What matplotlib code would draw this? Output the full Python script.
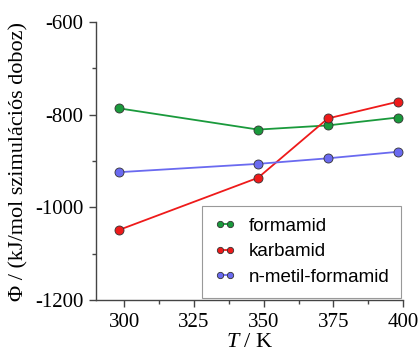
import matplotlib.pyplot as plt
from matplotlib.ticker import MultipleLocator

# data
T = [298, 348, 373, 398]
formamid = [-786, -832, -823, -806]
karbamid = [-1049, -936, -808, -772]
n_metil_formamid = [-924, -906, -894, -880]

series = [
    ('formamid', formamid, '#1a9a3c'),
    ('karbamid', karbamid, '#ee1a1a'),
    ('n-metil-formamid', n_metil_formamid, '#6a6af0'),
]

plt.rcParams['font.family'] = 'Liberation Serif'
plt.rcParams['axes.unicode_minus'] = False
plt.rcParams['mathtext.fontset'] = 'custom'
plt.rcParams['mathtext.it'] = 'Liberation Serif:italic'
plt.rcParams['mathtext.rm'] = 'Liberation Serif'

fig = plt.figure(figsize=(4.2, 3.56), dpi=100)
ax = fig.add_axes([0.229, 0.157, 0.731, 0.781])

for name, vals, col in series:
    ax.plot(T, vals, '-o', color=col, lw=1.3, ms=6.5,
            markeredgecolor='#333333', markeredgewidth=0.6, label=name)

ax.set_xlim(290, 400)
ax.set_ylim(-1200, -600)
ax.xaxis.set_major_locator(MultipleLocator(25))
ax.xaxis.set_minor_locator(MultipleLocator(12.5))
ax.yaxis.set_major_locator(MultipleLocator(200))
ax.yaxis.set_minor_locator(MultipleLocator(100))

for s in ['top', 'right']:
    ax.spines[s].set_visible(False)
for s in ['left', 'bottom']:
    ax.spines[s].set_color('#444444')
    ax.spines[s].set_linewidth(1.0)

ax.tick_params(which='major', length=5, width=1, color='#444444',
               labelsize=15, pad=4)
ax.tick_params(which='minor', length=3, width=1, color='#444444')

ax.set_xlabel('$T$ / K', fontsize=16, labelpad=1)
ax.set_ylabel('Φ / (kJ/mol szimulációs doboz)', fontsize=16, labelpad=5)

leg = ax.legend(loc='lower right', prop={'family': 'Liberation Sans', 'size': 13.5},
                numpoints=2, markerscale=0.7, handlelength=1.1,
                handletextpad=0.7, fancybox=False,
                edgecolor='#999999', framealpha=1, borderaxespad=0.1,
                labelspacing=0.45, borderpad=0.65)
leg.get_frame().set_linewidth(0.8)

plt.savefig('out.png', dpi=100)
